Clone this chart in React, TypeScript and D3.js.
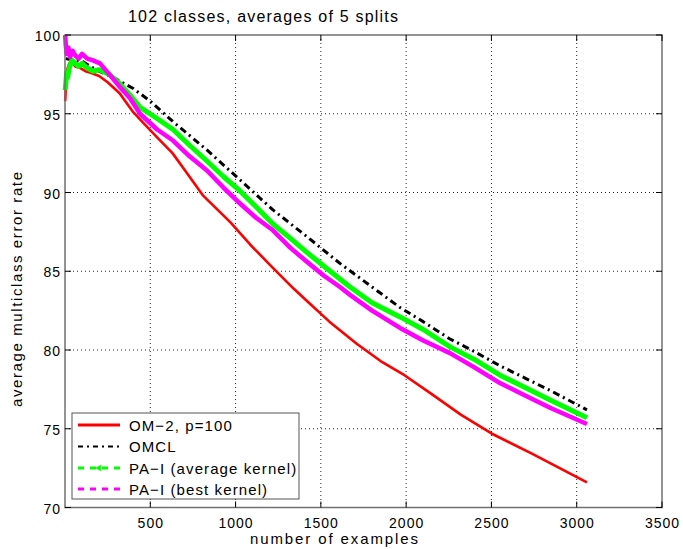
import React, { useRef, useEffect } from 'react';
import * as d3 from 'd3';

// axis ticks
const xTicks = [500, 1000, 1500, 2000, 2500, 3000, 3500];
const yTicks = [70, 75, 80, 85, 90, 95, 100];

// OM-2, p=100 (red)
const om2X = [1, 4, 8, 15, 25, 40, 60, 90, 120, 150, 200, 250, 320, 400, 470, 540, 630, 690, 810, 970, 1085, 1220, 1340, 1420, 1550, 1710, 1850, 1990, 2150, 2320, 2500, 2740, 2900, 3060];
const om2Y = [95.8, 96.5, 97.3, 97.9, 98.2, 98.3, 98.0, 97.9, 97.7, 97.6, 97.4, 97.0, 96.3, 95.1, 94.3, 93.5, 92.5, 91.6, 89.8, 88.1, 86.7, 85.2, 83.9, 83.1, 81.8, 80.4, 79.3, 78.4, 77.2, 75.9, 74.7, 73.4, 72.5, 71.6];

// OMCL (black dash-dot)
const omclX = [5, 50, 106, 180, 283, 400, 500, 633, 832, 1026, 1219, 1418, 1612, 1800, 1964, 2100, 2257, 2400, 2550, 2700, 2850, 3060];
const omclY = [98.5, 98.4, 98.3, 97.8, 97.3, 96.6, 95.8, 94.5, 92.7, 90.8, 88.9, 87.2, 85.5, 84.0, 82.7, 81.8, 80.7, 79.9, 79.0, 78.2, 77.4, 76.2];

// PA-I (average kernel) (green)
const paAvgX = [1, 5, 10, 15, 25, 40, 60, 80, 100, 130, 165, 200, 260, 322, 380, 440, 540, 633, 730, 832, 930, 1026, 1120, 1219, 1320, 1418, 1520, 1671, 1800, 1964, 2100, 2257, 2400, 2550, 2700, 2850, 3060];
const paAvgY = [96.5, 97.0, 97.6, 97.3, 97.9, 98.4, 98.2, 98.0, 98.2, 97.9, 97.7, 97.8, 97.5, 96.9, 96.2, 95.4, 94.7, 94.0, 93.0, 92.0, 91.0, 90.1, 89.1, 88.0, 87.1, 86.2, 85.3, 84.0, 83.0, 82.1, 81.3, 80.2, 79.4, 78.4, 77.6, 76.8, 75.7];

// PA-I (best kernel) (magenta)
const paBestX = [1, 5, 10, 20, 30, 45, 60, 80, 100, 130, 160, 205, 260, 322, 380, 440, 540, 633, 730, 832, 930, 1026, 1120, 1219, 1320, 1418, 1520, 1612, 1671, 1800, 1964, 2100, 2257, 2400, 2550, 2700, 2850, 3060];
const paBestY = [100, 99.3, 98.8, 99.2, 98.6, 99.0, 98.7, 98.5, 98.8, 98.5, 98.4, 98.2, 97.5, 96.7, 96.0, 95.0, 94.0, 93.3, 92.3, 91.4, 90.3, 89.3, 88.4, 87.6, 86.5, 85.6, 84.7, 84.0, 83.5, 82.5, 81.4, 80.6, 79.8, 78.9, 77.9, 77.1, 76.3, 75.3];

const legendLabels = ['OM\u22122, p=100', 'OMCL', 'PA\u2212I (average kernel)', 'PA\u2212I (best kernel)'];

const W = 683;
const H = 549;
const FONT = '"Liberation Sans", Arial, Helvetica, sans-serif';

const Chart = () => {
  const svgRef = useRef(null);

  useEffect(() => {
    document.body.style.margin = '0';
    const svg = d3.select(svgRef.current);
    svg.selectAll('*').remove();

    const left = 65, right = 662, top = 35, bottom = 507.5;
    const x = d3.scaleLinear().domain([0, 3500]).range([left, right]);
    const y = d3.scaleLinear().domain([70, 100]).range([bottom, top]);

    svg.append('rect').attr('width', W).attr('height', H).attr('fill', '#fff');

    // grid
    const grid = svg.append('g').attr('stroke', '#222').attr('stroke-width', 1).attr('stroke-dasharray', '1,3');
    xTicks.filter((t) => t < 3500).forEach((t) => {
      grid.append('line').attr('x1', x(t)).attr('x2', x(t)).attr('y1', top).attr('y2', bottom);
    });
    yTicks.filter((t) => t > 70 && t < 100).forEach((t) => {
      grid.append('line').attr('x1', left).attr('x2', right).attr('y1', y(t)).attr('y2', y(t));
    });

    // series
    const mk = (xs, ys) => xs.map((v, i) => [v, ys[i]]);
    const ln = d3.line().x((d) => x(d[0])).y((d) => y(d[1]));
    const series = [
      { data: mk(om2X, om2Y), color: '#ff0000', w: 2.6, dash: null },
      { data: mk(omclX, omclY), color: '#000', w: 3, dash: '7,4,2,4' },
      { data: mk(paAvgX, paAvgY), color: '#00ff00', w: 5, dash: null },
      { data: mk(paBestX, paBestY), color: '#ff00ff', w: 4.5, dash: null },
    ];
    series.forEach((s) => {
      svg.append('path')
        .attr('d', ln(s.data))
        .attr('fill', 'none')
        .attr('stroke', s.color)
        .attr('stroke-width', s.w)
        .attr('stroke-linejoin', 'round')
        .attr('stroke-dasharray', s.dash);
    });

    // box + ticks
    svg.append('rect')
      .attr('x', left).attr('y', top).attr('width', right - left).attr('height', bottom - top)
      .attr('fill', 'none').attr('stroke', '#707070').attr('stroke-width', 1.5);
    const tk = svg.append('g').attr('stroke', '#000').attr('stroke-width', 1);
    xTicks.forEach((t) => {
      tk.append('line').attr('x1', x(t)).attr('x2', x(t)).attr('y1', bottom).attr('y2', bottom - 6);
      tk.append('line').attr('x1', x(t)).attr('x2', x(t)).attr('y1', top).attr('y2', top + 6);
    });
    yTicks.forEach((t) => {
      tk.append('line').attr('x1', left).attr('x2', left + 6).attr('y1', y(t)).attr('y2', y(t));
      tk.append('line').attr('x1', right).attr('x2', right - 6).attr('y1', y(t)).attr('y2', y(t));
    });

    // tick labels
    svg.append('g').selectAll('text').data(xTicks).join('text')
      .attr('x', (d) => x(d) + 0.5).attr('y', 527.5)
      .attr('text-anchor', 'middle')
      .attr('font-family', FONT).attr('font-size', 14).attr('letter-spacing', 1)
      .text((d) => d);
    svg.append('g').selectAll('text').data(yTicks).join('text')
      .attr('x', 61).attr('y', (d) => y(d) + 6)
      .attr('text-anchor', 'end')
      .attr('font-family', FONT).attr('font-size', 14).attr('letter-spacing', 1)
      .text((d) => d);

    // title and axis labels
    svg.append('text')
      .attr('x', 128).attr('y', 21.5)
      .attr('font-family', FONT).attr('font-size', 16)
      .attr('textLength', 270).attr('lengthAdjust', 'spacing')
      .text('102 classes, averages of 5 splits');
    svg.append('text')
      .attr('x', 250).attr('y', 544)
      .attr('font-family', FONT).attr('font-size', 15)
      .attr('textLength', 168).attr('lengthAdjust', 'spacing')
      .text('number of examples');
    svg.append('text')
      .attr('transform', 'translate(22,289.5) rotate(-90)')
      .attr('text-anchor', 'middle')
      .attr('font-family', FONT).attr('font-size', 15)
      .attr('textLength', 235).attr('lengthAdjust', 'spacing')
      .text('average multiclass error rate');

    // legend
    const lg = svg.append('g');
    lg.append('rect')
      .attr('x', 72).attr('y', 413).attr('width', 227).attr('height', 86)
      .attr('fill', '#fff').attr('stroke', '#555').attr('stroke-width', 1);
    const rowY = [425, 446.5, 468, 489];
    const legendStyles = [
      { color: '#ff0000', w: 3, dash: null },
      { color: '#000', w: 2, dash: '5,4,2,4' },
      { color: '#00ff00', w: 3, dash: '6,6' },
      { color: '#ff00ff', w: 3, dash: '6,6' },
    ];
    legendLabels.forEach((lab, i) => {
      const st = legendStyles[i];
      lg.append('line')
        .attr('x1', 78).attr('x2', 120).attr('y1', rowY[i]).attr('y2', rowY[i])
        .attr('stroke', st.color).attr('stroke-width', st.w).attr('stroke-dasharray', st.dash);
      lg.append('text')
        .attr('x', 129).attr('y', rowY[i] + 5.5)
        .attr('font-family', FONT).attr('font-size', 15).attr('letter-spacing', 1.1)
        .text(lab);
    });
    // small marker on the green legend sample
    lg.append('path')
      .attr('d', d3.symbol(d3.symbolTriangle, 18)())
      .attr('transform', `translate(99,${rowY[2]}) rotate(-90)`)
      .attr('fill', '#00ff00');
  }, []);

  return <svg ref={svgRef} width={W} height={H} style={{ display: 'block' }}></svg>;
};

export default function App() {
  return <Chart />;
}
